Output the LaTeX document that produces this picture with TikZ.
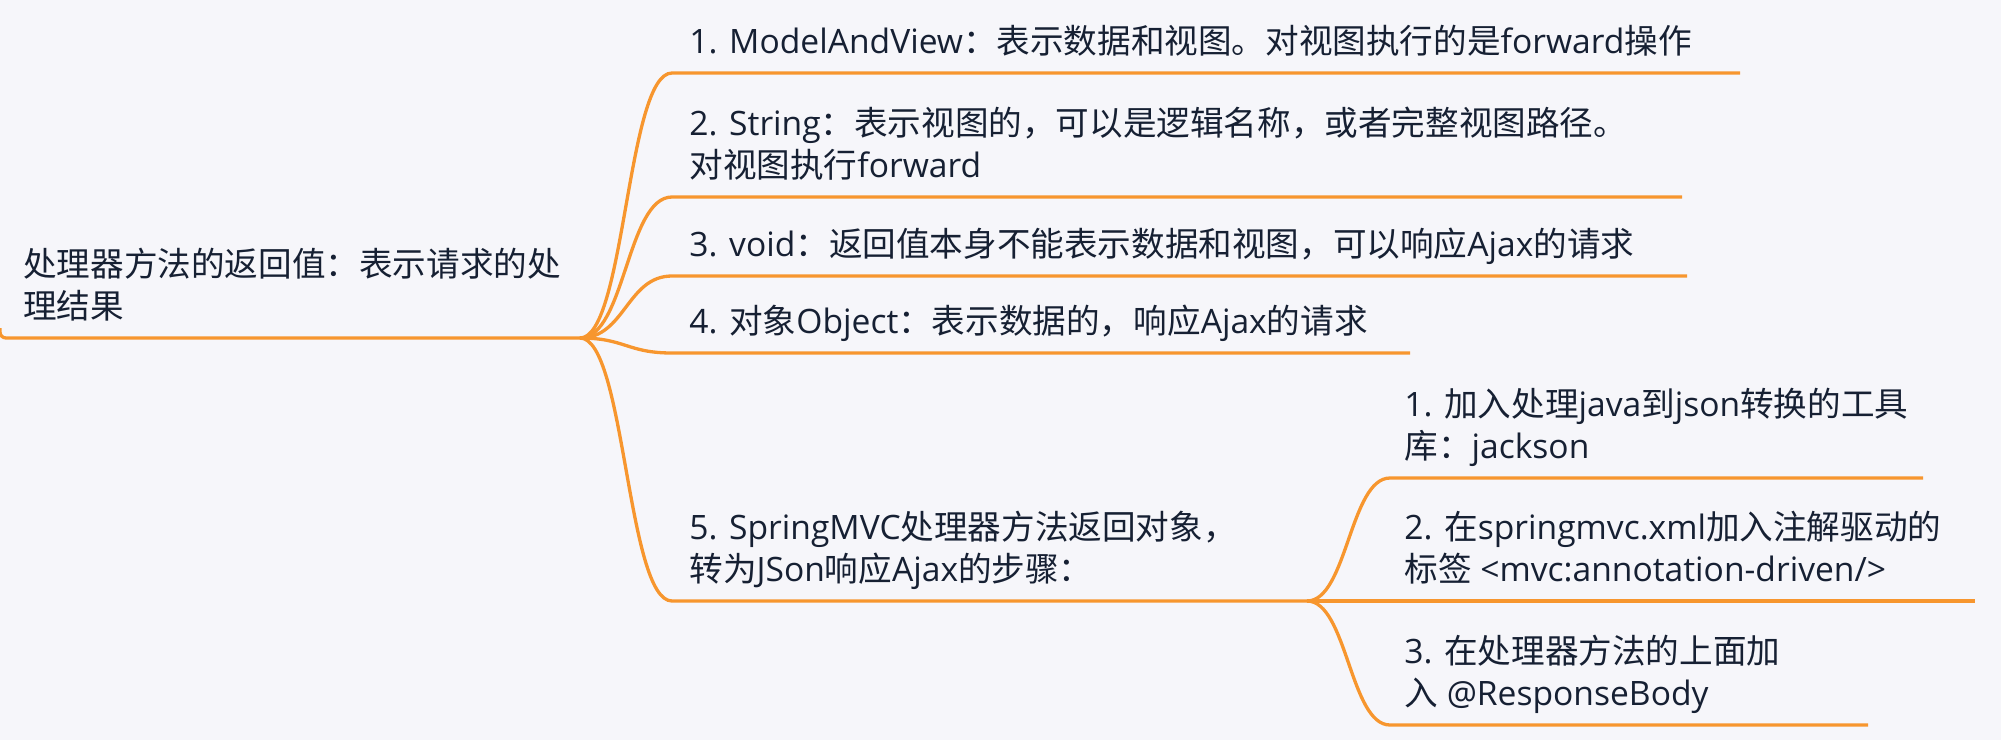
\documentclass[tikz,border=0pt]{standalone}
\usepackage{fontspec}
\setmainfont{Open Sans}
\newfontfamily\cjkfont{Noto Sans CJK SC}
% CJK characters are set in the CJK font
\XeTeXinterchartokenstate=1
\newXeTeXintercharclass\cjkclass
\newcount\cjkcode
\cjkcode="3000
\loop \XeTeXcharclass\cjkcode=\cjkclass \advance\cjkcode by 1 \ifnum\cjkcode<"A000 \repeat
\cjkcode="FF00
\loop \XeTeXcharclass\cjkcode=\cjkclass \advance\cjkcode by 1 \ifnum\cjkcode<"FFF0 \repeat
\XeTeXinterchartoks 0 \cjkclass = {\cjkfont}
\XeTeXinterchartoks 4095 \cjkclass = {\cjkfont}
\XeTeXinterchartoks \cjkclass 0 = {\normalfont}
\XeTeXinterchartoks \cjkclass 4095 = {\normalfont}
\definecolor{mapbg}{RGB}{246,246,250}
\definecolor{maporange}{RGB}{247,150,46}
\definecolor{mapink}{RGB}{22,32,51}
\begin{document}
\begin{tikzpicture}[x=0.5pt, y=-0.5pt,
  branch/.style={draw=maporange, line width=1.65pt},
  topic/.style={anchor=south west, align=left, text=mapink, inner xsep=8.5pt, inner ysep=5.3pt,
    text depth=4.2pt, font=\fontsize{16.8}{21}\selectfont}]
  \fill[mapbg] (0,0) rectangle (2001,740);
  \useasboundingbox (0,0) rectangle (2001,740);
  % root
  \node[topic, inner xsep=11.5pt] (root) at (0,338) {处理器方法的返回值：表示请求的处\\理结果};
  \coordinate (fan0) at (580,338);
  % first level
  \node[topic] (t1) at (672,73) {1. ModelAndView：表示数据和视图。对视图执行的是forward操作};
  \node[topic] (t2) at (672,197) {2. String：表示视图的，可以是逻辑名称，或者完整视图路径。\\对视图执行forward};
  \node[topic] (t3) at (672,276) {3. void：返回值本身不能表示数据和视图，可以响应Ajax的请求};
  \node[topic] (t4) at (672,353) {4. 对象Object：表示数据的，响应Ajax的请求};
  \node[topic] (t5) at (672,601) {5. SpringMVC处理器方法返回对象，\\转为JSon响应Ajax的步骤：};
  \coordinate (fan5) at (1307,601);
  % second level
  \node[topic, inner xsep=7pt] (s1) at (1390,478) {1. 加入处理java到json转换的工具\\库：jackson};
  \node[topic, inner xsep=7pt] (s2) at (1390,601) {2. 在springmvc.xml加入注解驱动的\\标签 <mvc:annotation-driven/>};
  \node[topic, inner xsep=7pt] (s3) at (1390,725) {3. 在处理器方法的上面加\\入 @ResponseBody};
  % connectors
  \draw[branch, rounded corners=3pt] ([yshift=5pt]root.south west) -- (root.south west) -- (fan0);
  \draw[branch] (fan0) .. controls +(45,0) and +(-45,0) .. (t1.south west) -- +(1068,0);
  \draw[branch] (fan0) .. controls +(45,0) and +(-45,0) .. (t2.south west) -- +(1010,0);
  \draw[branch] (fan0) .. controls +(45,0) and +(-45,0) .. (t3.south west) -- +(1015,0);
  \draw[branch] (fan0) .. controls +(45,0) and +(-45,0) .. (t4.south west) -- +(738,0);
  \draw[branch] (fan0) .. controls +(45,0) and +(-45,0) .. (t5.south west) -- (fan5);
  \draw[branch] (fan5) .. controls +(40,0) and +(-40,0) .. (s1.south west) -- +(533,0);
  \draw[branch] (fan5) -- (s2.south west) -- +(585,0);
  \draw[branch] (fan5) .. controls +(40,0) and +(-40,0) .. (s3.south west) -- +(478,0);
\end{tikzpicture}
\end{document}
